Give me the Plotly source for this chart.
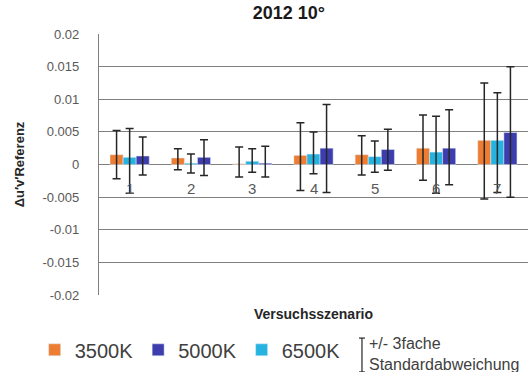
import plotly.graph_objects as go

categories = ["1", "2", "3", "4", "5", "6", "7"]

v3500 = [0.0015, 0.0010, 0.0001, 0.0014, 0.0015, 0.0025, 0.0037]
e3500_plus = [0.0037, 0.0014, 0.0026, 0.0050, 0.0029, 0.0051, 0.0088]
e3500_minus = [0.0037, 0.0018, 0.0020, 0.0054, 0.0031, 0.0049, 0.0090]

v6500 = [0.0011, 0.0002, 0.0005, 0.0016, 0.0012, 0.0019, 0.0037]
e6500_plus = [0.0044, 0.0014, 0.0019, 0.0034, 0.0024, 0.0055, 0.0073]
e6500_minus = [0.0055, 0.0015, 0.0017, 0.0030, 0.0024, 0.0063, 0.0080]

v5000 = [0.0013, 0.0011, 0.0002, 0.0025, 0.0023, 0.0025, 0.0049]
e5000_plus = [0.0029, 0.0027, 0.0026, 0.0067, 0.0031, 0.0059, 0.0101]
e5000_minus = [0.0029, 0.0028, 0.0021, 0.0068, 0.0032, 0.0056, 0.0099]

y_ticks = [0.02, 0.015, 0.01, 0.005, 0, -0.005, -0.01, -0.015, -0.02]
y_ticktext = ["0.02", "0.015", "0.01", "0.005", "0", "-0.005", "-0.01", "-0.015", "-0.02"]

C_ORANGE = "#ED7D31"
C_BLUE = "#3D3DAD"
C_CYAN = "#27B3E0"
ERR = dict(type="data", symmetric=False, color="#262626", thickness=1.5, width=4)

fig = go.Figure()
fig.add_trace(go.Bar(x=categories, y=v3500, name="3500K", marker_color=C_ORANGE, legendrank=1,
                     error_y=dict(ERR, array=e3500_plus, arrayminus=e3500_minus)))
fig.add_trace(go.Bar(x=categories, y=v6500, name="6500K", marker_color=C_CYAN, legendrank=3,
                     error_y=dict(ERR, array=e6500_plus, arrayminus=e6500_minus)))
fig.add_trace(go.Bar(x=categories, y=v5000, name="5000K", marker_color=C_BLUE, legendrank=2,
                     error_y=dict(ERR, array=e5000_plus, arrayminus=e5000_minus)))

# category labels sitting just below the zero line (Excel-style)
for i, c in enumerate(categories):
    fig.add_annotation(x=i, y=-0.0037, xref="x", yref="y", text=c, showarrow=False,
                       font=dict(family="Liberation Sans", size=15, color="#595959"))

# error bar legend symbol
fig.add_shape(type="line", xref="paper", yref="paper", x0=0.613, x1=0.613, y0=-0.165, y1=-0.295,
              line=dict(color="#262626", width=1.2))
for yy in (-0.165, -0.295):
    fig.add_shape(type="line", xref="paper", yref="paper", x0=0.606, x1=0.620, y0=yy, y1=yy,
                  line=dict(color="#262626", width=1.2))
fig.add_annotation(x=0.625, y=-0.225, xref="paper", yref="paper", xanchor="left", yanchor="middle",
                   text="+/- 3fache<br>Standardabweichung", showarrow=False, align="left",
                   font=dict(family="Liberation Sans", size=16, color="#404040"))

fig.update_layout(
    width=531, height=372,
    margin=dict(l=99, r=3, t=34, b=77),
    paper_bgcolor="white", plot_bgcolor="white",
    barmode="group", bargap=0.36, bargroupgap=0,
    title=dict(text="<b>2012 10°</b>", x=0.544, xanchor="center", y=0.966, yanchor="middle",
               font=dict(family="Liberation Sans", size=18, color="#1a1a1a")),
    showlegend=True,
    legend=dict(orientation="h", x=-0.15, xanchor="left", y=-0.21, yanchor="middle",
                font=dict(family="Liberation Sans", size=20, color="#404040"),
                itemwidth=30, tracegroupgap=0, bgcolor="rgba(0,0,0,0)"),
    xaxis=dict(type="category", showticklabels=False, showgrid=False, zeroline=False,
               showline=False, ticks="",
               title=dict(text="<b>Versuchsszenario</b>", standoff=14,
                          font=dict(family="Liberation Sans", size=14, color="#262626"))),
    yaxis=dict(range=[-0.02, 0.02], tickvals=y_ticks, ticktext=y_ticktext,
               showgrid=True, gridcolor="#7F7F7F", gridwidth=1.2,
               zeroline=True, zerolinecolor="#7F7F7F", zerolinewidth=1.2,
               showline=True, linecolor="#7F7F7F", linewidth=1.2,
               ticks="", ticklabelstandoff=16,
               tickfont=dict(family="Liberation Sans", size=13, color="#595959"),
               title=dict(text="<b>Δu′v′Referenz</b>", standoff=14,
                          font=dict(family="Liberation Sans", size=13, color="#262626"))),
)

fig.write_html("out.html")
